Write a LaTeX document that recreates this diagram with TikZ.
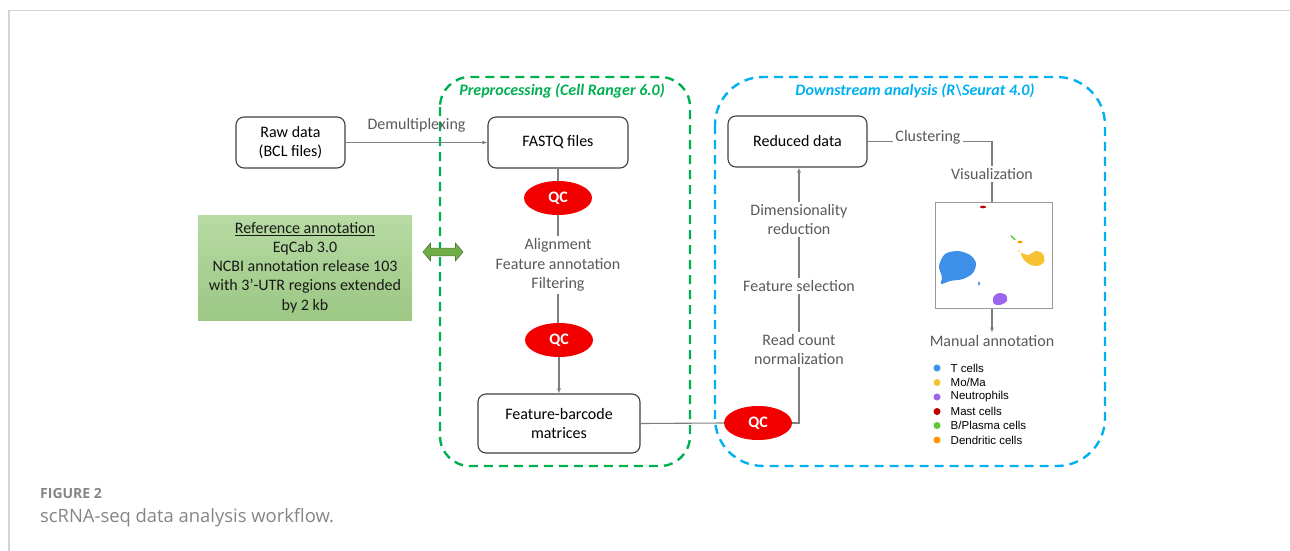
\documentclass[tikz,border=0pt]{standalone}
\usepackage{fontspec}
\setmainfont{Carlito}
\newfontfamily\arialf{Liberation Sans}
\newfontfamily\capf{Open Sans}
\usetikzlibrary{arrows.meta,shapes.geometric,shapes.arrows,calc}
\definecolor{txtgray}{HTML}{595959}
\definecolor{linegray}{HTML}{7F7F7F}
\definecolor{boxdraw}{HTML}{404040}
\definecolor{qcred}{HTML}{F20000}
\definecolor{gtitle}{HTML}{00B050}
\definecolor{btitle}{HTML}{00B0F0}
\definecolor{gtop}{HTML}{B7DBA3}
\definecolor{gbot}{HTML}{9CC784}
\definecolor{arrgreen}{HTML}{70AD47}
\definecolor{arrdark}{HTML}{507E32}
\definecolor{framegray}{HTML}{D4D4D4}
\definecolor{capgray}{HTML}{858585}
\definecolor{cT}{HTML}{3D8FEA}
\definecolor{cMo}{HTML}{F7C134}
\definecolor{cNe}{HTML}{9A66EE}
\definecolor{cMa}{HTML}{C00000}
\definecolor{cB}{HTML}{5CC636}
\definecolor{cD}{HTML}{FF9500}
\tikzset{
  flowbox/.style={draw=boxdraw, line width=1.1pt, rounded corners=8pt, fill=white, align=center,
    font=\fontsize{16}{19.5}\selectfont, text=black, inner sep=2pt},
  qcnode/.style={ellipse, fill=qcred, minimum width=68pt, minimum height=34pt, inner sep=0pt,
    text=white, font=\fontsize{16}{18}\selectfont\bfseries},
  lbl/.style={align=center, text=txtgray, font=\fontsize{16}{19.2}\selectfont, inner sep=2.5pt},
  conn/.style={draw=linegray, line width=1.1pt},
  arr/.style={conn, -{Latex[length=5pt,width=4pt]}},
  legtxt/.style={anchor=west, font=\arialf\fontsize{11.5}{13}\selectfont, text=black, inner sep=0pt},
  legdot/.style={circle, inner sep=0pt, minimum size=7pt},
}
\begin{document}
\begin{tikzpicture}[x=1pt,y=-1pt]
\useasboundingbox (0,0) rectangle (1290,551);
% frame
\draw[framegray, line width=1.6pt] (9,551) -- (9,10.5) -- (1290,10.5);
% dashed containers
\draw[gtitle, line width=2.4pt, dash pattern=on 9pt off 6pt, rounded corners=30pt] (440,77) rectangle (690,466);
\draw[btitle, line width=2.4pt, dash pattern=on 9pt off 6pt, rounded corners=48pt] (715,77) rectangle (1105,466);
\node[text=gtitle, font=\fontsize{16}{18}\selectfont\bfseries\itshape] (t1) at (562,91) {Preprocessing (Cell Ranger 6.0)};
\node[text=btitle, font=\fontsize{16}{18}\selectfont\bfseries\itshape] (t2) at (915,91) {Downstream analysis (R\textbackslash Seurat 4.0)};

% reference annotation
\node[minimum width=214pt, minimum height=105pt, top color=gtop, bottom color=gbot, align=center,
  font=\fontsize{16}{19.2}\selectfont, text=black!90] (refann) at (305,267.5)
  {\underline{Reference annotation}\\EqCab 3.0\\NCBI annotation release 103\\with 3'-UTR regions extended\\by 2 kb};
\node[double arrow, fill=arrgreen, draw=arrdark, line width=0.6pt, minimum height=40pt, inner xsep=0pt,
  inner ysep=3.6pt, double arrow head extend=5pt, double arrow tip angle=100] (dbl) at (443,252) {};

% preprocessing column
\node[flowbox, minimum width=109pt, minimum height=51pt] (raw) at (290.5,142.5) {Raw data\\(BCL files)};
\node[flowbox, minimum width=140pt, minimum height=51pt] (fastq) at (558,142.5) {FASTQ files};
\node[qcnode] (qc1) at (558,198) {QC};
\node[lbl] (align) at (558,265) {Alignment\\Feature annotation\\Filtering};
\node[qcnode] (qc2) at (559,340) {QC};
\node[flowbox, minimum width=162pt, minimum height=59pt] (fbm) at (559,423.5) {Feature-barcode\\matrices};
\node[lbl] (demux) at (416.5,125) {Demultiplexing};

% downstream
\node[qcnode] (qc3) at (758,423) {QC};
\node[lbl] (rcn) at (799,349.5) {Read count\\normalization};
\node[lbl] (fsel) at (799,286) {Feature selection};
\node[lbl] (dimr) at (799,219.5) {Dimensionality\\reduction};
\node[flowbox, minimum width=139pt, minimum height=51pt] (red) at (797.5,141.5) {Reduced data};
\node[lbl] (clust) at (928,137) {Clustering};
\node[lbl] (vis) at (992,174) {Visualization};
\node[draw=linegray!80, line width=1pt, minimum width=117pt, minimum height=106pt, inner sep=0pt] (umap) at (993.5,255) {};
\node[lbl] (man) at (992,341) {Manual annotation};

% UMAP clusters
\fill[cT] plot[smooth cycle] coordinates {(945,254) (958,251) (970,255) (976,263) (973,273) (963,279) (950,281) (941,284) (942,277) (939,266)};
\fill[cT] (979,283.5) ellipse (0.9pt and 2pt);
\fill[cMo] plot[smooth cycle] coordinates {(1021,253) (1028,255) (1036,251) (1043,254) (1044,262) (1038,266) (1031,265) (1024,260)};
\fill[cMo] (1019,251) circle (0.8pt);
\fill[cNe] plot[smooth cycle] coordinates {(994,296) (999,293) (1006,295) (1007,301) (1000,305) (994,304) (993,300)};
\fill[cMa] (983,207) ellipse (3pt and 1.3pt);
\draw[cB, line width=1.4pt, line cap=round] (1011,236) -- (1015,239.5);
\fill[cD] (1020,242) ellipse (2.6pt and 1.3pt);

% legend
\foreach \yy/\cc/\tt [count=\i] in {368/cT/T cells, 382.5/cMo/Mo\slash Ma, 397/cNe/Neutrophils, 411.5/cMa/Mast cells, 425.5/cB/B\slash Plasma cells, 440/cD/Dendritic cells}{
  \node[legdot, fill=\cc] (ld\i) at (937,\yy) {};
  \node[legtxt] (lt\i) at (950.5,\yy) {\tt};
}

% connectors
\draw[arr] (raw.east) -- (fastq.west);
\draw[conn] (fastq.south) -- (qc1.north);
\draw[conn] (qc1.south) -- (qc1.south |- align.north);
\draw[conn] (align.south) -- (align.south |- qc2.north);
\draw[arr] (qc2.south) -- (qc2.south |- fbm.north);
\draw[conn] (fbm.east) -- (qc3.west);
\draw[conn] (qc3.east) -| (rcn.south);
\draw[conn] (rcn.north) -- (fsel.south);
\draw[conn] (fsel.north) -- (dimr.south);
\draw[arr] (dimr.north) -- (dimr.north |- red.south);
\draw[conn] (red.east) -- (red.east -| clust.west);
\draw[conn] (clust.east |- red.east) -| (vis.north);
\draw[conn] (vis.south) -- (vis.south |- umap.north);
\draw[arr] (umap.south -| man.north) -- (man.north);

% caption
\node[anchor=west, inner sep=0pt, text=capgray, font=\capf\bfseries\fontsize{14}{16}\selectfont] (fig) at (40,493) {FIGURE 2};
\node[anchor=west, inner sep=0pt, text=capgray, font=\capf\fontsize{18.4}{21}\selectfont] (cap) at (40,518) {scRNA-seq data analysis workflow.};
\end{tikzpicture}
\end{document}
